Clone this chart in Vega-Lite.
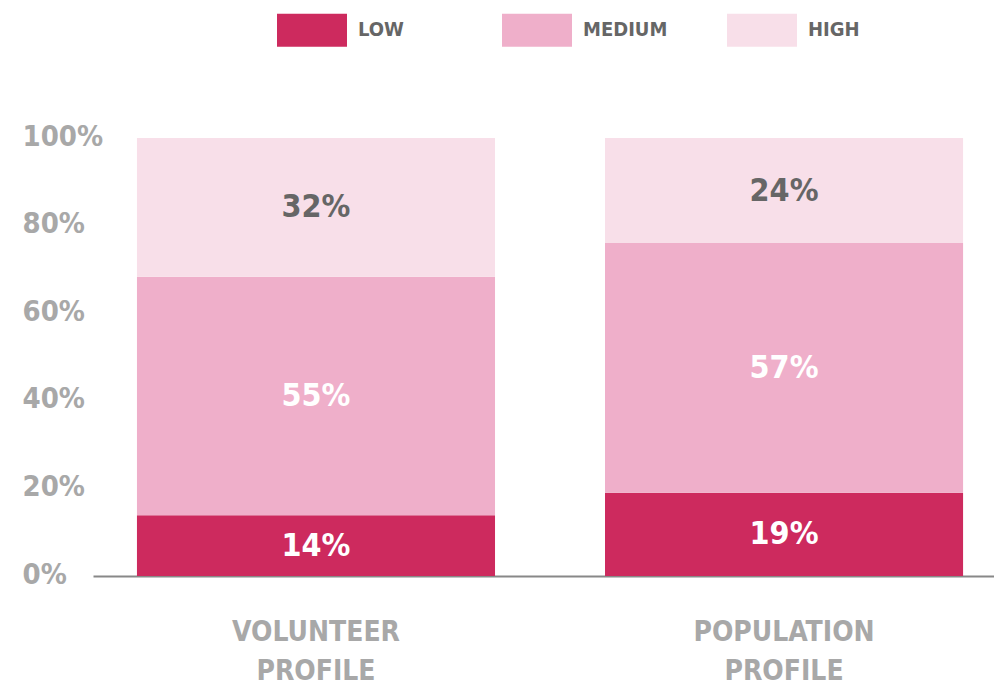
{
  "$schema": "https://vega.github.io/schema/vega-lite/v6.json",
  "autosize": "none",
  "width": 901,
  "height": 438,
  "padding": {"left": 93, "top": 138, "right": 0, "bottom": 111},
  "background": "white",
  "config": {"view": {"stroke": null}},
  "data": {
    "values": [
      {"profile": "VOLUNTEER PROFILE", "level": "LOW", "ord": 1, "value": 0.14},
      {"profile": "VOLUNTEER PROFILE", "level": "MEDIUM", "ord": 2, "value": 0.55},
      {"profile": "VOLUNTEER PROFILE", "level": "HIGH", "ord": 3, "value": 0.32},
      {"profile": "POPULATION PROFILE", "level": "LOW", "ord": 1, "value": 0.19},
      {"profile": "POPULATION PROFILE", "level": "MEDIUM", "ord": 2, "value": 0.57},
      {"profile": "POPULATION PROFILE", "level": "HIGH", "ord": 3, "value": 0.24}
    ]
  },
  "encoding": {
    "x": {
      "field": "profile",
      "type": "nominal",
      "sort": ["VOLUNTEER PROFILE", "POPULATION PROFILE"],
      "title": null,
      "scale": {"paddingInner": 0.235, "paddingOuter": 0.08, "align": 0.587},
      "axis": {
        "labelAngle": 0,
        "ticks": false,
        "tickSize": 0,
        "domainColor": "#888888",
        "domainWidth": 2,
        "labelFont": "DejaVu Sans Condensed, sans-serif",
        "labelFontWeight": "bold",
        "labelFontSize": 28,
        "labelColor": "#a8a8a8",
        "labelBaseline": "alphabetic",
        "labelPadding": 64,
        "labelLineHeight": 39,
        "labelLimit": 0,
        "labelExpr": "split(datum.label, ' ')"
      }
    },
    "y": {
      "field": "value",
      "type": "quantitative",
      "stack": "normalize",
      "title": null,
      "scale": {"domain": [0, 1]},
      "axis": {
        "values": [0, 0.2, 0.4, 0.6, 0.8, 1],
        "format": ".0%",
        "grid": false,
        "domain": false,
        "ticks": false,
        "tickSize": 0,
        "labelAlign": "left",
        "labelBaseline": "middle",
        "labelPadding": 71,
        "labelOffset": -2,
        "labelFont": "DejaVu Sans Condensed, sans-serif",
        "labelFontWeight": "bold",
        "labelFontSize": 29,
        "labelColor": "#a8a8a8"
      }
    },
    "order": {"field": "ord", "type": "quantitative"}
  },
  "layer": [
    {
      "mark": {"type": "bar"},
      "encoding": {
        "color": {
          "field": "level",
          "type": "nominal",
          "scale": {"domain": ["LOW", "MEDIUM", "HIGH"], "range": ["#cd2a5e", "#efafca", "#f8dfe9"]},
          "legend": {
            "title": null,
            "orient": "none",
            "legendX": 184,
            "legendY": -143,
            "direction": "horizontal",
            "padding": 0,
            "symbolType": "M-1,-0.47H1V0.47H-1Z",
            "symbolSize": 4900,
            "symbolStrokeWidth": 0,
            "symbolOpacity": 1,
            "gridAlign": "all",
            "columnPadding": 59,
            "labelOffset": 11,
            "labelFont": "DejaVu Sans Condensed, sans-serif",
            "labelFontWeight": "bold",
            "labelFontSize": 20,
            "labelColor": "#666666"
          }
        }
      }
    },
    {
      "mark": {
        "type": "text",
        "font": "DejaVu Sans Condensed, sans-serif",
        "fontWeight": "bold",
        "fontSize": 32,
        "baseline": "middle",
        "align": "center"
      },
      "encoding": {
        "y": {"field": "value", "type": "quantitative", "stack": "normalize", "bandPosition": 0.5},
        "text": {"field": "value", "type": "quantitative", "format": ".0%"},
        "color": {
          "condition": {"test": "datum.level === 'HIGH'", "value": "#666666"},
          "value": "white"
        }
      }
    }
  ]
}
